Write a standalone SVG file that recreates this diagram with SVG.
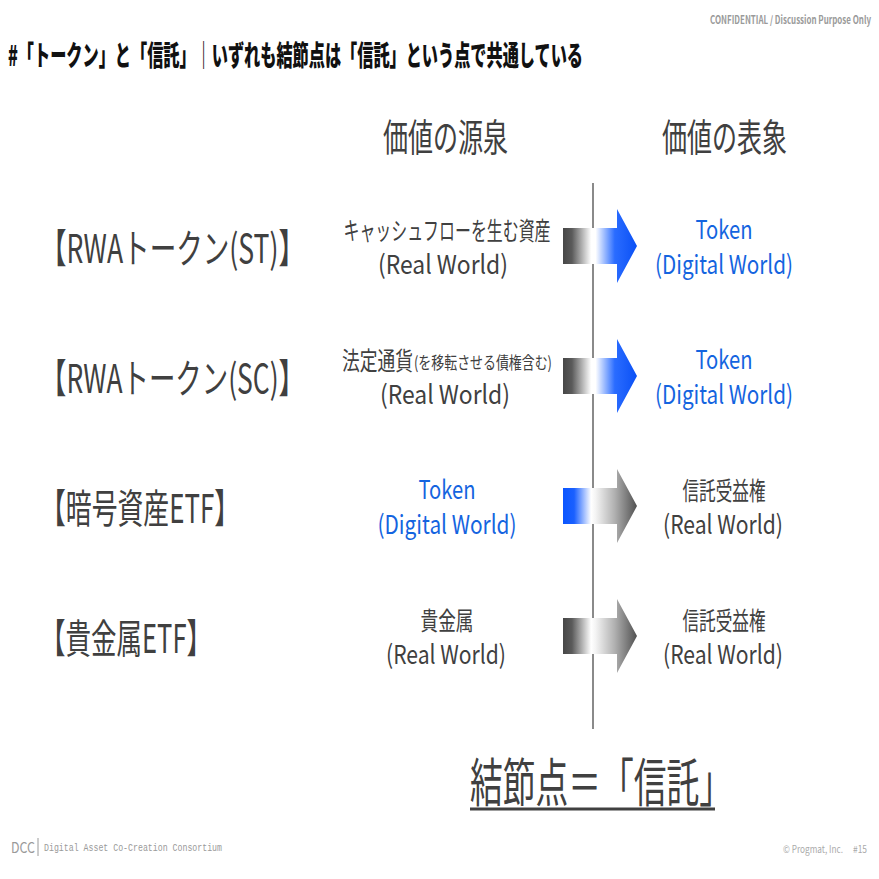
<svg xmlns="http://www.w3.org/2000/svg" width="879" height="879" viewBox="0 0 879 879">
<style>
text{font-family:"Noto Sans CJK JP","Noto Sans",sans-serif;}
.dk{fill:#404040;}
.bl{fill:#1464e0;}
.ft{fill:#9a9a9a;}
.lbl{font-size:40px;}
.hd{font-size:38px;}
.mid{font-size:25px;text-anchor:middle;}
.rw{font-size:26px;text-anchor:middle;}
</style>
<defs>
<linearGradient id="gb" x1="0" y1="0" x2="1" y2="0">
<stop offset="0" stop-color="#474747"/>
<stop offset="0.12" stop-color="#5a5a5a"/>
<stop offset="0.38" stop-color="#ffffff"/>
<stop offset="0.44" stop-color="#ffffff"/>
<stop offset="0.7" stop-color="#2a6cff"/>
<stop offset="1" stop-color="#0a50f5"/>
</linearGradient>
<linearGradient id="bg" x1="0" y1="0" x2="1" y2="0">
<stop offset="0" stop-color="#0a55ff"/>
<stop offset="0.15" stop-color="#1a60ff"/>
<stop offset="0.38" stop-color="#ffffff"/>
<stop offset="0.44" stop-color="#f4f4f4"/>
<stop offset="0.7" stop-color="#b0b0b0"/>
<stop offset="1" stop-color="#505050"/>
</linearGradient>
<linearGradient id="gg" x1="0" y1="0" x2="1" y2="0">
<stop offset="0" stop-color="#474747"/>
<stop offset="0.12" stop-color="#5a5a5a"/>
<stop offset="0.38" stop-color="#ffffff"/>
<stop offset="0.44" stop-color="#f4f4f4"/>
<stop offset="0.7" stop-color="#b0b0b0"/>
<stop offset="1" stop-color="#505050"/>
</linearGradient>
</defs>
<rect width="879" height="879" fill="#fff"/>

<g id="header">
<text x="710" y="24" font-size="11" font-weight="bold" class="ft" textLength="161" lengthAdjust="spacingAndGlyphs">CONFIDENTIAL / Discussion Purpose Only</text>
<text x="8" y="66" font-size="28" font-weight="900" fill="#111" textLength="575" lengthAdjust="spacingAndGlyphs">#「トークン」と「信託」｜いずれも結節点は「信託」という点で共通している</text>
</g>

<g id="col-source"><text x="383" y="151" class="hd dk" textLength="125" lengthAdjust="spacingAndGlyphs">価値の源泉</text></g>
<g id="col-repr"><text x="662" y="151" class="hd dk" textLength="125" lengthAdjust="spacingAndGlyphs">価値の表象</text></g>

<g id="divider"><line x1="593" y1="183" x2="593" y2="729" stroke="#8a8a8a" stroke-width="2"/></g>

<g id="row1-label"><text x="40" y="263" class="lbl dk" textLength="265" lengthAdjust="spacingAndGlyphs">【RWAトークン(ST)】</text></g>
<g id="row2-label"><text x="40" y="393" class="lbl dk" textLength="265" lengthAdjust="spacingAndGlyphs">【RWAトークン(SC)】</text></g>
<g id="row3-label"><text x="40" y="523" class="lbl dk" textLength="200" lengthAdjust="spacingAndGlyphs">【暗号資産ETF】</text></g>
<g id="row4-label"><text x="40" y="653" class="lbl dk" textLength="172" lengthAdjust="spacingAndGlyphs">【貴金属ETF】</text></g>

<g id="row1-source">
<text x="447" y="240" class="mid dk" textLength="207" lengthAdjust="spacingAndGlyphs">キャッシュフローを生む資産</text>
<text x="443" y="274" class="rw dk" textLength="130" lengthAdjust="spacingAndGlyphs">(Real World)</text>
</g>
<g id="row1-repr">
<text x="724" y="239" class="rw bl" textLength="57" lengthAdjust="spacingAndGlyphs">Token</text>
<text x="724" y="274" class="rw bl" textLength="138" lengthAdjust="spacingAndGlyphs">(Digital World)</text>
</g>

<g id="row2-source">
<text x="342" y="370" font-size="25" class="dk" textLength="71" lengthAdjust="spacingAndGlyphs">法定通貨</text>
<text x="414" y="369" font-size="17" class="dk" textLength="138" lengthAdjust="spacingAndGlyphs">(を移転させる債権含む)</text>
<text x="445" y="404" class="rw dk" textLength="130" lengthAdjust="spacingAndGlyphs">(Real World)</text>
</g>
<g id="row2-repr">
<text x="724" y="369" class="rw bl" textLength="57" lengthAdjust="spacingAndGlyphs">Token</text>
<text x="724" y="404" class="rw bl" textLength="138" lengthAdjust="spacingAndGlyphs">(Digital World)</text>
</g>

<g id="row3-source">
<text x="447" y="499" class="rw bl" textLength="57" lengthAdjust="spacingAndGlyphs">Token</text>
<text x="447" y="534" class="rw bl" textLength="139" lengthAdjust="spacingAndGlyphs">(Digital World)</text>
</g>
<g id="row3-repr">
<text x="724" y="500" class="mid dk" textLength="83" lengthAdjust="spacingAndGlyphs">信託受益権</text>
<text x="723" y="534" class="rw dk" textLength="120" lengthAdjust="spacingAndGlyphs">(Real World)</text>
</g>

<g id="row4-source">
<text x="447" y="630" class="mid dk" textLength="53" lengthAdjust="spacingAndGlyphs">貴金属</text>
<text x="446" y="664" class="rw dk" textLength="120" lengthAdjust="spacingAndGlyphs">(Real World)</text>
</g>
<g id="row4-repr">
<text x="724" y="630" class="mid dk" textLength="83" lengthAdjust="spacingAndGlyphs">信託受益権</text>
<text x="723" y="664" class="rw dk" textLength="120" lengthAdjust="spacingAndGlyphs">(Real World)</text>
</g>

<g id="connectors">
<polygon points="563,228 617,228 617,209 637,246 617,283 617,264 563,264" fill="url(#gb)"/>
<polygon points="563,358 617,358 617,339 637,376 617,413 617,394 563,394" fill="url(#gb)"/>
<polygon points="563,488 617,488 617,469 637,506 617,543 617,524 563,524" fill="url(#bg)"/>
<polygon points="563,618 617,618 617,599 637,636 617,673 617,654 563,654" fill="url(#gg)"/>
</g>

<g id="conclusion">
<text x="470" y="802" font-size="52" class="dk" textLength="262" lengthAdjust="spacingAndGlyphs">結節点＝「信託」</text>
<line x1="470" y1="809" x2="715" y2="809" stroke="#404040" stroke-width="3"/>
</g>

<g id="footer">
<text x="11" y="853" font-size="15" class="ft" textLength="24" lengthAdjust="spacingAndGlyphs">DCC</text>
<line x1="38" y1="838" x2="38" y2="856" stroke="#9a9a9a" stroke-width="1"/>
<text x="44" y="851" font-size="10" class="ft" style="font-family:'Liberation Mono',monospace" textLength="178" lengthAdjust="spacingAndGlyphs">Digital Asset Co-Creation Consortium</text>
<text x="783" y="853" font-size="10" fill="#aaa" textLength="60" lengthAdjust="spacingAndGlyphs">© Progmat, Inc.</text>
<text x="853" y="853" font-size="10" fill="#aaa" textLength="14" lengthAdjust="spacingAndGlyphs">#15</text>
</g>
</svg>
